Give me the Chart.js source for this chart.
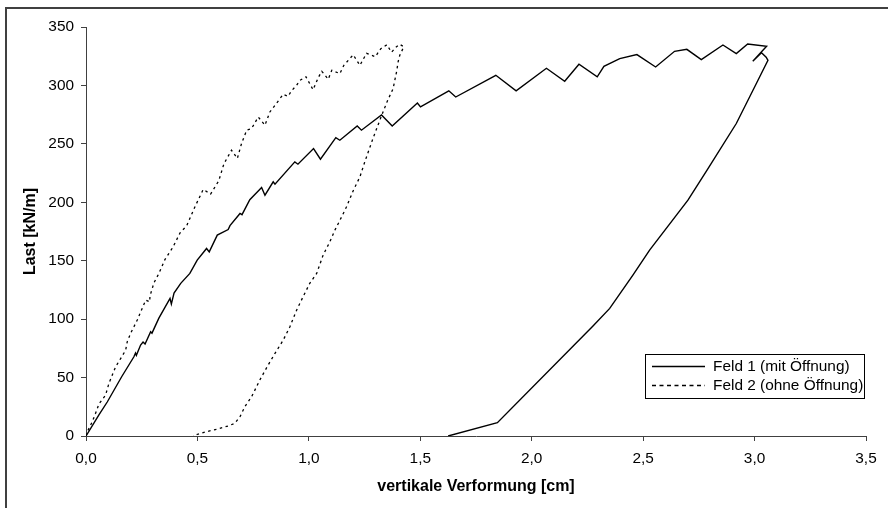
<!DOCTYPE html>
<html>
<head>
<meta charset="utf-8">
<script src="https://cdn.jsdelivr.net/npm/chart.js@4.4.1/dist/chart.umd.min.js"></script>
<style>
  html, body { margin: 0; padding: 0; background: #fff; overflow: hidden; }
  #wrap { position: relative; width: 888px; height: 508px; overflow: hidden; }
  #c { position: absolute; left: 0; top: 0; }
  #frame { position: absolute; left: 5px; top: 7px; width: 920px; height: 540px;
           border: 2px solid #404040; box-sizing: border-box; pointer-events: none; }
</style>
</head>
<body>
<div id="wrap">
  <canvas id="c" width="888" height="508"></canvas>
  <div id="frame"></div>
</div>
<script>
// ---- data (vertikale Verformung [cm], Last [kN/m]) ----
const seriesNames = ['Feld 1 (mit Öffnung)', 'Feld 2 (ohne Öffnung)'];

const feld1X = [0, 0.058, 0.096, 0.160, 0.215, 0.222, 0.226, 0.245, 0.256, 0.265, 0.290, 0.296, 0.327, 0.377, 0.383, 0.395, 0.425, 0.466, 0.499, 0.541, 0.553, 0.589, 0.638, 0.646, 0.691, 0.700, 0.735, 0.788, 0.803, 0.840, 0.848, 0.937, 0.951, 1.021, 1.052, 1.121, 1.139, 1.217, 1.236, 1.326, 1.374, 1.487, 1.501, 1.628, 1.659, 1.839, 1.930, 2.066, 2.148, 2.212, 2.294, 2.324, 2.395, 2.472, 2.556, 2.641, 2.696, 2.761, 2.858, 2.918, 2.969, 3.054, 2.992, 3.031, 3.052, 3.060, 3.008, 2.918, 2.791, 2.701, 2.529, 2.454, 2.350, 2.275, 1.846, 1.625];
const feld1Y = [0, 18, 29.3, 50.7, 67.8, 71, 69, 77.8, 80.4, 78.7, 89.2, 88, 100.9, 117.7, 112.9, 122.3, 130.6, 139.1, 150.5, 160.5, 157.6, 171.9, 176.7, 180, 190.4, 189.4, 202.2, 212.7, 206.1, 217.5, 215.5, 234.6, 232.6, 246, 236.9, 255.3, 253.1, 265.3, 261.7, 274.7, 265.3, 285, 281.6, 295.4, 290.1, 308.7, 295.3, 314.7, 303.6, 318.1, 307.4, 316.4, 323, 326.4, 315.8, 329.2, 330.9, 322.1, 334.6, 327.2, 335.5, 333.5, 320.7, 327.9, 324.1, 321.5, 301.6, 267.4, 228.9, 201.8, 159, 137.7, 109.2, 94.1, 11.4, 0];

const feld2X = [0, 0.006, 0.028, 0.043, 0.058, 0.088, 0.103, 0.118, 0.133, 0.156, 0.178, 0.185, 0.200, 0.215, 0.230, 0.252, 0.268, 0.286, 0.287, 0.305, 0.327, 0.354, 0.390, 0.422, 0.452, 0.489, 0.526, 0.559, 0.596, 0.619, 0.653, 0.679, 0.698, 0.721, 0.743, 0.773, 0.803, 0.825, 0.848, 0.885, 0.907, 0.922, 0.945, 0.960, 0.987, 1.019, 1.042, 1.058, 1.087, 1.103, 1.139, 1.157, 1.199, 1.229, 1.259, 1.298, 1.323, 1.350, 1.371, 1.390, 1.408, 1.426, 1.408, 1.400, 1.395, 1.378, 1.352, 1.327, 1.288, 1.251, 1.229, 1.199, 1.169, 1.147, 1.117, 1.094, 1.064, 1.035, 1.004, 0.974, 0.945, 0.915, 0.885, 0.848, 0.813, 0.780, 0.743, 0.713, 0.691, 0.668, 0.638, 0.586, 0.541, 0.504, 0.481];
const feld2Y = [0, 3.7, 12.2, 19.4, 27.4, 35.1, 45.1, 52.2, 59.3, 66.4, 73.5, 80.6, 87.8, 93.5, 99.2, 109.2, 116.3, 114.8, 119.7, 131.1, 139.1, 150.9, 161.6, 173.8, 180, 196.2, 211, 207, 218.5, 233, 244.6, 237.5, 250.3, 261.7, 263.1, 273, 265.9, 277.3, 283, 292.4, 290.7, 295.4, 300.1, 304.4, 307.4, 296.3, 306.6, 312.1, 305.3, 313, 310.1, 317.2, 326.2, 317.2, 327.5, 324.5, 331.5, 334.8, 328.4, 332.6, 335.2, 333.1, 325.8, 319.8, 313, 297.3, 286.5, 274.5, 254.8, 234.6, 221.7, 209.9, 196.1, 187.5, 176.2, 166.1, 154.8, 139.1, 130.6, 119.1, 107.7, 93.5, 82.1, 70.7, 59.3, 47.9, 33.6, 25.1, 16.5, 10.9, 8.6, 5.7, 3.7, 1.7, 0];

const xTickValues = [0, 0.5, 1.0, 1.5, 2.0, 2.5, 3.0, 3.5];
const xTickLabels = ['0,0', '0,5', '1,0', '1,5', '2,0', '2,5', '3,0', '3,5'];
const yTickValues = [0, 50, 100, 150, 200, 250, 300, 350];
const yTickLabels = ['0', '50', '100', '150', '200', '250', '300', '350'];

const xTitle = 'vertikale Verformung [cm]';
const yTitle = 'Last [kN/m]';

// ---- chart ----
const FONT = '"Liberation Sans", Arial, sans-serif';
const AXIS = '#404040';
const toPts = (xs, ys) => xs.map((x, i) => ({ x: x, y: ys[i] }));

const legendPlugin = {
  id: 'boxLegend',
  afterDraw(chart) {
    const ctx = chart.ctx;
    const L = 645.5, T = 354.5, W = 219, H = 44;
    ctx.save();
    ctx.fillStyle = '#fff';
    ctx.fillRect(L, T, W, H);
    ctx.strokeStyle = '#000';
    ctx.lineWidth = 1;
    ctx.setLineDash([]);
    ctx.strokeRect(L, T, W, H);
    const rows = [366.5, 385.5];
    chart.data.datasets.forEach((ds, i) => {
      const y = rows[i];
      ctx.beginPath();
      ctx.setLineDash(ds.borderDash ? [4, 3.5] : []);
      ctx.strokeStyle = ds.borderColor;
      ctx.lineWidth = 1.5;
      ctx.moveTo(652, y);
      ctx.lineTo(705, y);
      ctx.stroke();
      ctx.setLineDash([]);
      ctx.fillStyle = '#000';
      ctx.font = '15.4px ' + FONT;
      ctx.textBaseline = 'middle';
      ctx.textAlign = 'left';
      ctx.fillText(ds.label, 713, y);
    });
    ctx.restore();
  }
};

new Chart(document.getElementById('c'), {
  type: 'scatter',
  data: {
    datasets: [
      { label: seriesNames[0], data: toPts(feld1X, feld1Y), showLine: true,
        borderColor: '#000', borderWidth: 1.4, pointRadius: 0, fill: false, tension: 0 },
      { label: seriesNames[1], data: toPts(feld2X, feld2Y), showLine: true,
        borderColor: '#000', borderWidth: 1.3, borderDash: [2.5, 3.5], pointRadius: 0, fill: false, tension: 0 }
    ]
  },
  options: {
    responsive: false,
    animation: false,
    devicePixelRatio: 1,
    layout: { padding: { left: 0, right: 22, top: 27, bottom: 0 } },
    plugins: { legend: { display: false }, tooltip: { enabled: false } },
    scales: {
      x: {
        type: 'linear', min: 0, max: 3.5,
        afterBuildTicks: s => { s.ticks = xTickValues.map(v => ({ value: v })); },
        afterFit: s => { s.height = 72; },
        ticks: {
          callback: (v) => xTickLabels[xTickValues.indexOf(Math.round(v * 10) / 10)],
          color: '#000', font: { family: FONT, size: 15.4 }, padding: 9,
          maxRotation: 0, autoSkip: false
        },
        grid: { drawOnChartArea: false, drawTicks: true, tickLength: 5, color: AXIS, lineWidth: 1 },
        border: { display: true, color: AXIS, width: 1 },
        title: { display: true, text: xTitle, color: '#000',
                 font: { family: FONT, size: 16, weight: 'bold' }, padding: { top: 4, bottom: 12 } }
      },
      y: {
        type: 'linear', min: 0, max: 350,
        afterBuildTicks: s => { s.ticks = yTickValues.map(v => ({ value: v })); },
        afterFit: s => { s.width = 86; },
        ticks: {
          callback: (v) => yTickLabels[yTickValues.indexOf(Math.round(v))],
          color: '#000', font: { family: FONT, size: 15.4 }, padding: 7, autoSkip: false
        },
        grid: { drawOnChartArea: false, drawTicks: true, tickLength: 5, color: AXIS, lineWidth: 1 },
        border: { display: true, color: AXIS, width: 1 },
        title: { display: true, text: yTitle, color: '#000',
                 font: { family: FONT, size: 16, weight: 'bold' }, padding: { top: 21, bottom: 0 } }
      }
    }
  },
  plugins: [legendPlugin]
});
</script>
</body>
</html>
